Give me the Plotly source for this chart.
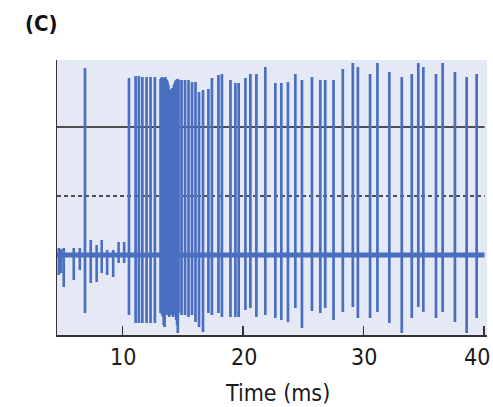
import plotly.graph_objects as go

# ---- data (time in ms, amplitude in arbitrary units relative to resting baseline = 0) ----
# early small fluctuations before firing starts
noise_t = [4.73, 4.93, 5.14, 5.97, 6.47, 7.38, 7.87, 8.29, 8.74, 9.24, 9.69, 10.15]
noise_up = [7, 6, 7, 7, 7, 15, 10, 15, 5, 5, 13, 13]
noise_down = [-20, -18, -32, -25, -15, -28, -27, -18, -20, -22, -8, -8]

# full action potentials (spikes)
spike_t = [6.90, 10.55, 11.10, 11.37, 11.66, 12.01, 12.34, 12.70,
           14.91, 15.20, 15.49, 15.78, 16.07, 16.36, 16.69, 17.14, 17.43, 17.97, 18.26,
           18.97, 19.38, 19.65, 20.21, 20.62, 21.12, 21.86, 22.69, 23.19, 23.74, 24.35,
           24.90, 25.73, 26.42, 26.83, 27.52, 28.29, 29.12, 29.54, 30.55, 31.16, 32.15,
           33.18, 34.01, 34.55, 34.97, 36.02, 36.57, 37.59, 38.56, 39.39]
spike_top = [187, 177, 179, 179, 178, 178, 178, 178,
             175, 175, 175, 173, 173, 163, 165, 166, 177, 180, 181,
             175, 172, 172, 177, 181, 181, 188, 172, 172, 173, 181,
             175, 178, 175, 175, 175, 186, 192, 188, 181, 192, 183,
             178, 181, 192, 188, 181, 192, 183, 178, 181]
spike_bottom = [-58, -60, -68, -68, -68, -68, -68, -68,
                -60, -60, -62, -60, -67, -72, -77, -58, -60, -58, -62,
                -62, -62, -62, -55, -53, -62, -60, -63, -65, -67, -53,
                -73, -56, -58, -53, -65, -57, -52, -63, -63, -57, -68,
                -78, -63, -52, -57, -63, -57, -67, -78, -63]

# high-frequency burst (dense block)
burst_t = [13.17, 13.24, 13.30, 13.37, 13.43, 13.50, 13.56, 13.63, 13.69, 13.76, 13.82, 13.89,
           13.95, 14.02, 14.08, 14.15, 14.21, 14.28, 14.34, 14.41, 14.47, 14.54, 14.60, 14.66]
burst_top = [176, 177, 178, 177, 176, 177, 178, 176, 175, 173, 170, 166,
             163, 163, 165, 167, 166, 170, 172, 174, 175, 176, 176, 175]
burst_bottom = [-58, -58, -60, -62, -70, -72, -60, -58, -58, -60, -58, -62,
                -58, -60, -58, -58, -62, -60, -58, -58, -65, -70, -78, -58]

threshold_solid = 128
threshold_dashed = 59
baseline = 0
x_range = [4.58, 40.25]
line_span = [4.58, 40.05]
y_range = [-80, 195]
x_ticks = [10, 20, 30, 40]
x_tick_labels = ["10", "20", "30", "40"]

BLUE = "#4a6fc0"
FONT = "Liberation Sans Narrow, DejaVu Sans Condensed, sans-serif"


def segments(ts, lows, highs):
    xs, ys = [], []
    for t, lo, hi in zip(ts, lows, highs):
        xs += [t, t, None]
        ys += [lo, hi, None]
    return xs, ys


fig = go.Figure()

# reference lines
fig.add_trace(go.Scatter(x=line_span, y=[threshold_solid] * 2, mode="lines",
                         line=dict(color="#1a1a1a", width=1.5), hoverinfo="skip"))
fig.add_trace(go.Scatter(x=line_span, y=[threshold_dashed] * 2, mode="lines",
                         line=dict(color="#1a1a1a", width=1.5, dash="4px,3px"), hoverinfo="skip"))

# baseline
fig.add_trace(go.Scatter(x=line_span, y=[baseline] * 2, mode="lines",
                         line=dict(color=BLUE, width=5), hoverinfo="skip"))

for ts, lo, hi, w in [(noise_t, noise_down, noise_up, 2.6),
                      (spike_t, spike_bottom, spike_top, 2.7),
                      (burst_t, burst_bottom, burst_top, 2.7)]:
    xs, ys = segments(ts, lo, hi)
    fig.add_trace(go.Scatter(x=xs, y=ys, mode="lines",
                             line=dict(color=BLUE, width=w), hoverinfo="skip"))

annotations = [
    dict(text="<b>(C)</b>", xref="paper", yref="paper", x=-0.079, y=1.131,
         xanchor="left", yanchor="middle", showarrow=False,
         font=dict(size=22, color="#111111")),
    dict(text="Time (ms)", xref="paper", yref="paper", x=0.513, y=-0.211,
         xanchor="center", yanchor="middle", showarrow=False,
         font=dict(size=23, color="#1a1a1a")),
]
# tick labels (last one kept inside the figure edge, as in the reference)
for i, (v, lab) in enumerate(zip(x_ticks, x_tick_labels)):
    last = i == len(x_ticks) - 1
    annotations.append(dict(
        text=lab, xref="x" if not last else "paper", yref="paper",
        x=v if not last else 1.0, y=0, yshift=-22,
        xanchor="center" if not last else "right", xshift=1 if not last else 5,
        yanchor="middle", showarrow=False,
        font=dict(size=23, color="#1a1a1a")))

fig.update_layout(
    width=493, height=407,
    margin=dict(l=57, r=6, t=60, b=72, autoexpand=False),
    paper_bgcolor="white",
    plot_bgcolor="#e5e9f6",
    showlegend=False,
    font=dict(family=FONT, color="#1a1a1a"),
    annotations=annotations,
)
fig.update_xaxes(range=x_range, tickvals=x_ticks, showticklabels=False, automargin=False,
                 showgrid=False, zeroline=False, showline=True, linecolor="#333333", linewidth=1.5,
                 ticks="inside", ticklen=9, tickwidth=1.5, tickcolor="#333333")
fig.update_yaxes(range=y_range, showgrid=False, zeroline=False, showticklabels=False, automargin=False,
                 showline=True, linecolor="#333333", linewidth=1.5, ticks="")

fig.write_html(
    "out.html",
    config={"displayModeBar": False, "staticPlot": True},
    post_script="document.body.style.margin='0';document.documentElement.style.overflow='hidden';",
)
